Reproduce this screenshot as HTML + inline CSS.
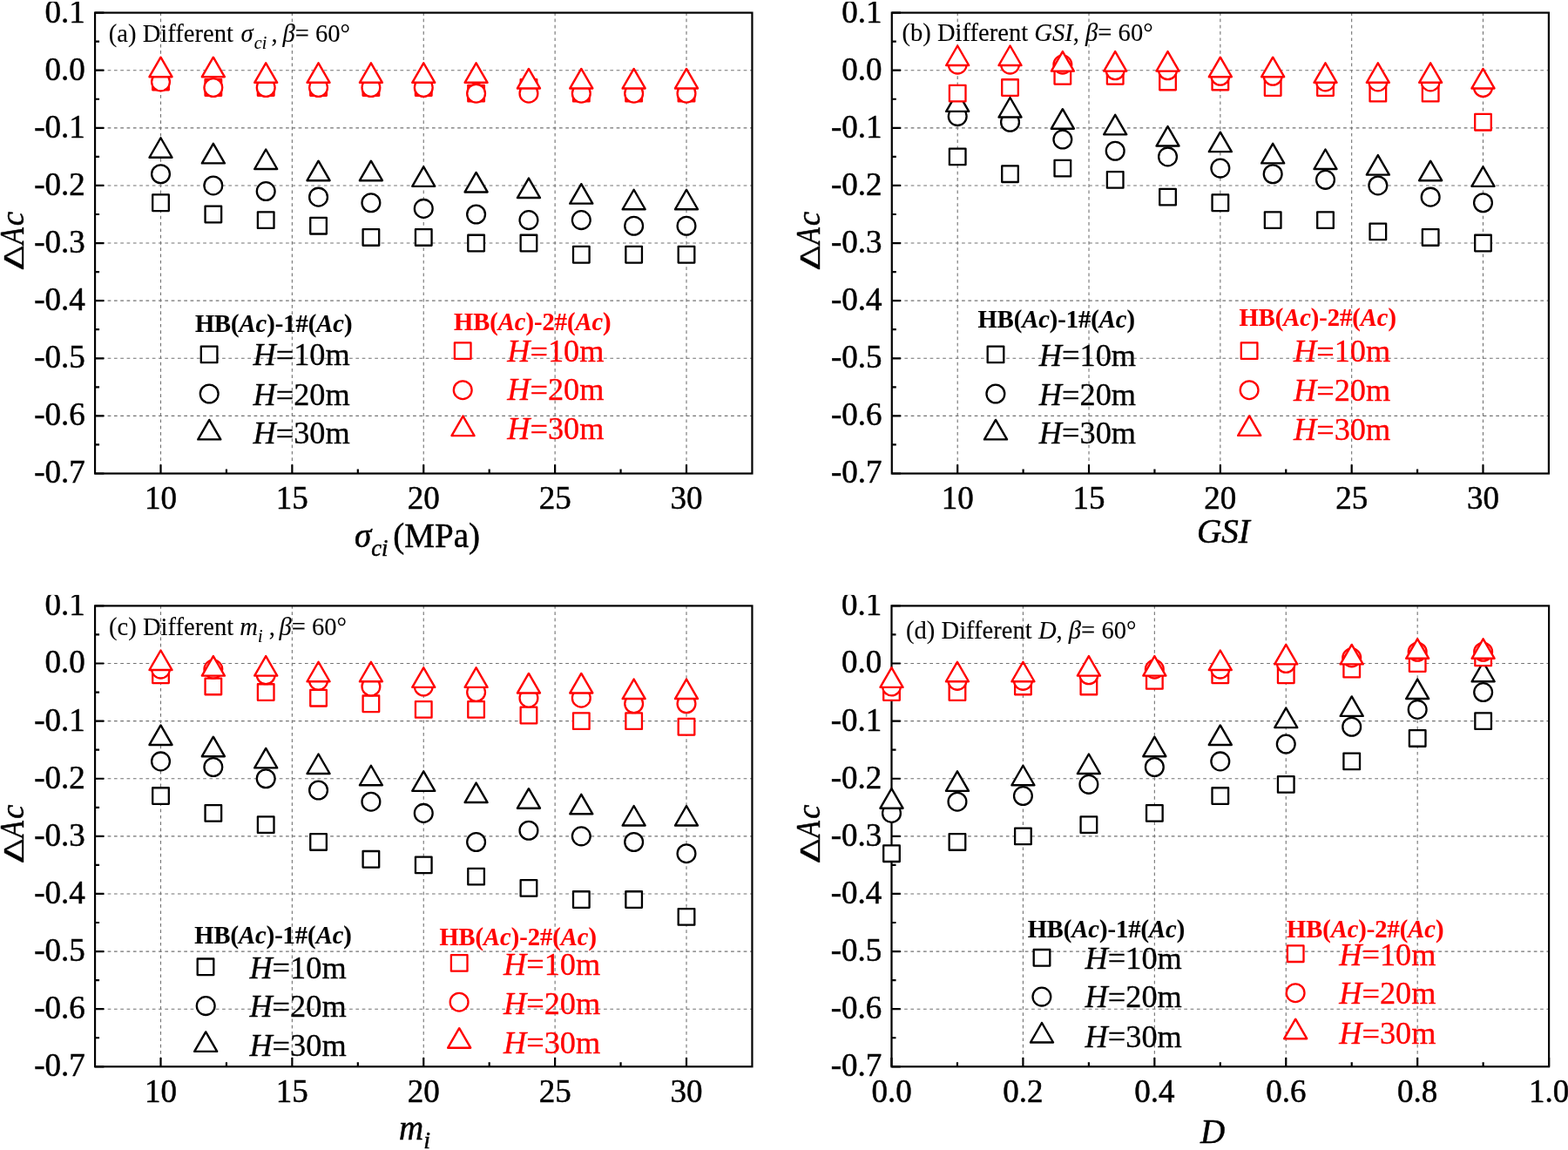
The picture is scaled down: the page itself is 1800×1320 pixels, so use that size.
<!DOCTYPE html>
<html><head><meta charset="utf-8"><title>Figure</title>
<style>html,body{margin:0;padding:0;background:#fff;}svg{display:block;}text{font-family:"Liberation Serif", serif;stroke:#000;stroke-width:0.5px;}text.r{fill:#f00;stroke:#f00;}text.lg{stroke-width:0.3px;}text.hd{stroke-width:0.15px;}text.pt{stroke-width:0.1px;}</style></head><body>
<svg width="1800" height="1320" viewBox="0 0 1800 1320">
<rect width="1800" height="1320" fill="#fff"/>
<g stroke="#727272" stroke-width="1.1" stroke-dasharray="3.7 3.6" fill="none"><line x1="109.06" y1="80.71" x2="863.44" y2="80.71"/><line x1="109.06" y1="146.83" x2="863.44" y2="146.83"/><line x1="109.06" y1="212.94" x2="863.44" y2="212.94"/><line x1="109.06" y1="279.05" x2="863.44" y2="279.05"/><line x1="109.06" y1="345.16" x2="863.44" y2="345.16"/><line x1="109.06" y1="411.28" x2="863.44" y2="411.28"/><line x1="109.06" y1="477.39" x2="863.44" y2="477.39"/><line x1="184.5" y1="543.5" x2="184.5" y2="14.6"/><line x1="335.37" y1="543.5" x2="335.37" y2="14.6"/><line x1="486.25" y1="543.5" x2="486.25" y2="14.6"/><line x1="637.13" y1="543.5" x2="637.13" y2="14.6"/><line x1="788" y1="543.5" x2="788" y2="14.6"/></g>
<rect x="109.06" y="14.6" width="754.38" height="528.9" fill="none" stroke="#000" stroke-width="2.2"/>
<path d="M109.06 14.6H119.36M109.06 80.71H119.36M109.06 146.83H119.36M109.06 212.94H119.36M109.06 279.05H119.36M109.06 345.16H119.36M109.06 411.28H119.36M109.06 477.39H119.36M109.06 543.5H119.36M109.06 47.66H114.06M109.06 113.77H114.06M109.06 179.88H114.06M109.06 245.99H114.06M109.06 312.11H114.06M109.06 378.22H114.06M109.06 444.33H114.06M109.06 510.44H114.06M184.5 543.5V533.2M335.37 543.5V533.2M486.25 543.5V533.2M637.13 543.5V533.2M788 543.5V533.2M259.94 543.5V538.5M410.81 543.5V538.5M561.69 543.5V538.5M712.56 543.5V538.5" stroke="#000" stroke-width="2.2" fill="none"/>
<g font-size="37.0" text-anchor="end"><text x="97.86" y="25.5">0.1</text><text x="97.86" y="91.61">0.0</text><text x="97.86" y="157.73">-0.1</text><text x="97.86" y="223.84">-0.2</text><text x="97.86" y="289.95">-0.3</text><text x="97.86" y="356.06">-0.4</text><text x="97.86" y="422.18">-0.5</text><text x="97.86" y="488.29">-0.6</text><text x="97.86" y="554.4">-0.7</text></g>
<g font-size="37.0" text-anchor="middle"><text x="184.5" y="584.1">10</text><text x="335.37" y="584.1">15</text><text x="486.25" y="584.1">20</text><text x="637.13" y="584.1">25</text><text x="788" y="584.1">30</text></g>
<rect x="175.2" y="223.47" width="18.6" height="18.6" fill="#fff" stroke="#000" stroke-width="2.3" stroke-linejoin="round"/><rect x="235.55" y="236.69" width="18.6" height="18.6" fill="#fff" stroke="#000" stroke-width="2.3" stroke-linejoin="round"/><rect x="295.9" y="243.31" width="18.6" height="18.6" fill="#fff" stroke="#000" stroke-width="2.3" stroke-linejoin="round"/><rect x="356.25" y="249.92" width="18.6" height="18.6" fill="#fff" stroke="#000" stroke-width="2.3" stroke-linejoin="round"/><rect x="416.6" y="263.14" width="18.6" height="18.6" fill="#fff" stroke="#000" stroke-width="2.3" stroke-linejoin="round"/><rect x="476.95" y="263.14" width="18.6" height="18.6" fill="#fff" stroke="#000" stroke-width="2.3" stroke-linejoin="round"/><rect x="537.3" y="269.75" width="18.6" height="18.6" fill="#fff" stroke="#000" stroke-width="2.3" stroke-linejoin="round"/><rect x="597.65" y="269.75" width="18.6" height="18.6" fill="#fff" stroke="#000" stroke-width="2.3" stroke-linejoin="round"/><rect x="658" y="282.97" width="18.6" height="18.6" fill="#fff" stroke="#000" stroke-width="2.3" stroke-linejoin="round"/><rect x="718.35" y="282.97" width="18.6" height="18.6" fill="#fff" stroke="#000" stroke-width="2.3" stroke-linejoin="round"/><rect x="778.7" y="282.97" width="18.6" height="18.6" fill="#fff" stroke="#000" stroke-width="2.3" stroke-linejoin="round"/>
<circle cx="184.5" cy="199.71" r="10.4" fill="#fff" stroke="#000" stroke-width="2.3" stroke-linejoin="round"/><circle cx="244.85" cy="212.94" r="10.4" fill="#fff" stroke="#000" stroke-width="2.3" stroke-linejoin="round"/><circle cx="305.2" cy="219.55" r="10.4" fill="#fff" stroke="#000" stroke-width="2.3" stroke-linejoin="round"/><circle cx="365.55" cy="226.16" r="10.4" fill="#fff" stroke="#000" stroke-width="2.3" stroke-linejoin="round"/><circle cx="425.9" cy="232.77" r="10.4" fill="#fff" stroke="#000" stroke-width="2.3" stroke-linejoin="round"/><circle cx="486.25" cy="239.38" r="10.4" fill="#fff" stroke="#000" stroke-width="2.3" stroke-linejoin="round"/><circle cx="546.6" cy="245.99" r="10.4" fill="#fff" stroke="#000" stroke-width="2.3" stroke-linejoin="round"/><circle cx="606.95" cy="252.61" r="10.4" fill="#fff" stroke="#000" stroke-width="2.3" stroke-linejoin="round"/><circle cx="667.3" cy="252.61" r="10.4" fill="#fff" stroke="#000" stroke-width="2.3" stroke-linejoin="round"/><circle cx="727.65" cy="259.22" r="10.4" fill="#fff" stroke="#000" stroke-width="2.3" stroke-linejoin="round"/><circle cx="788" cy="259.22" r="10.4" fill="#fff" stroke="#000" stroke-width="2.3" stroke-linejoin="round"/>
<path d="M184.5 158.27L197.5 180.77L171.5 180.77Z" fill="#fff" stroke="#000" stroke-width="2.4" stroke-linejoin="round"/><path d="M244.85 164.88L257.85 187.38L231.85 187.38Z" fill="#fff" stroke="#000" stroke-width="2.4" stroke-linejoin="round"/><path d="M305.2 171.49L318.2 193.99L292.2 193.99Z" fill="#fff" stroke="#000" stroke-width="2.4" stroke-linejoin="round"/><path d="M365.55 184.71L378.55 207.21L352.55 207.21Z" fill="#fff" stroke="#000" stroke-width="2.4" stroke-linejoin="round"/><path d="M425.9 184.71L438.9 207.21L412.9 207.21Z" fill="#fff" stroke="#000" stroke-width="2.4" stroke-linejoin="round"/><path d="M486.25 191.33L499.25 213.83L473.25 213.83Z" fill="#fff" stroke="#000" stroke-width="2.4" stroke-linejoin="round"/><path d="M546.6 197.94L559.6 220.44L533.6 220.44Z" fill="#fff" stroke="#000" stroke-width="2.4" stroke-linejoin="round"/><path d="M606.95 204.55L619.95 227.05L593.95 227.05Z" fill="#fff" stroke="#000" stroke-width="2.4" stroke-linejoin="round"/><path d="M667.3 211.16L680.3 233.66L654.3 233.66Z" fill="#fff" stroke="#000" stroke-width="2.4" stroke-linejoin="round"/><path d="M727.65 217.77L740.65 240.27L714.65 240.27Z" fill="#fff" stroke="#000" stroke-width="2.4" stroke-linejoin="round"/><path d="M788 217.77L801 240.27L775 240.27Z" fill="#fff" stroke="#000" stroke-width="2.4" stroke-linejoin="round"/>
<rect x="175.2" y="84.64" width="18.6" height="18.6" fill="#fff" stroke="#ff0000" stroke-width="2.3" stroke-linejoin="round"/><rect x="235.55" y="91.25" width="18.6" height="18.6" fill="#fff" stroke="#ff0000" stroke-width="2.3" stroke-linejoin="round"/><rect x="295.9" y="91.25" width="18.6" height="18.6" fill="#fff" stroke="#ff0000" stroke-width="2.3" stroke-linejoin="round"/><rect x="356.25" y="91.25" width="18.6" height="18.6" fill="#fff" stroke="#ff0000" stroke-width="2.3" stroke-linejoin="round"/><rect x="416.6" y="91.25" width="18.6" height="18.6" fill="#fff" stroke="#ff0000" stroke-width="2.3" stroke-linejoin="round"/><rect x="476.95" y="91.25" width="18.6" height="18.6" fill="#fff" stroke="#ff0000" stroke-width="2.3" stroke-linejoin="round"/><rect x="537.3" y="97.86" width="18.6" height="18.6" fill="#fff" stroke="#ff0000" stroke-width="2.3" stroke-linejoin="round"/><rect x="597.65" y="91.25" width="18.6" height="18.6" fill="#fff" stroke="#ff0000" stroke-width="2.3" stroke-linejoin="round"/><rect x="658" y="97.86" width="18.6" height="18.6" fill="#fff" stroke="#ff0000" stroke-width="2.3" stroke-linejoin="round"/><rect x="718.35" y="97.86" width="18.6" height="18.6" fill="#fff" stroke="#ff0000" stroke-width="2.3" stroke-linejoin="round"/><rect x="778.7" y="97.86" width="18.6" height="18.6" fill="#fff" stroke="#ff0000" stroke-width="2.3" stroke-linejoin="round"/>
<circle cx="184.5" cy="93.94" r="10.4" fill="#fff" stroke="#ff0000" stroke-width="2.3" stroke-linejoin="round"/><circle cx="244.85" cy="100.55" r="10.4" fill="#fff" stroke="#ff0000" stroke-width="2.3" stroke-linejoin="round"/><circle cx="305.2" cy="100.55" r="10.4" fill="#fff" stroke="#ff0000" stroke-width="2.3" stroke-linejoin="round"/><circle cx="365.55" cy="100.55" r="10.4" fill="#fff" stroke="#ff0000" stroke-width="2.3" stroke-linejoin="round"/><circle cx="425.9" cy="100.55" r="10.4" fill="#fff" stroke="#ff0000" stroke-width="2.3" stroke-linejoin="round"/><circle cx="486.25" cy="100.55" r="10.4" fill="#fff" stroke="#ff0000" stroke-width="2.3" stroke-linejoin="round"/><circle cx="546.6" cy="107.16" r="10.4" fill="#fff" stroke="#ff0000" stroke-width="2.3" stroke-linejoin="round"/><circle cx="606.95" cy="107.16" r="10.4" fill="#fff" stroke="#ff0000" stroke-width="2.3" stroke-linejoin="round"/><circle cx="667.3" cy="107.16" r="10.4" fill="#fff" stroke="#ff0000" stroke-width="2.3" stroke-linejoin="round"/><circle cx="727.65" cy="107.16" r="10.4" fill="#fff" stroke="#ff0000" stroke-width="2.3" stroke-linejoin="round"/><circle cx="788" cy="107.16" r="10.4" fill="#fff" stroke="#ff0000" stroke-width="2.3" stroke-linejoin="round"/>
<path d="M184.5 65.71L197.5 88.21L171.5 88.21Z" fill="#fff" stroke="#ff0000" stroke-width="2.4" stroke-linejoin="round"/><path d="M244.85 65.71L257.85 88.21L231.85 88.21Z" fill="#fff" stroke="#ff0000" stroke-width="2.4" stroke-linejoin="round"/><path d="M305.2 72.32L318.2 94.82L292.2 94.82Z" fill="#fff" stroke="#ff0000" stroke-width="2.4" stroke-linejoin="round"/><path d="M365.55 72.32L378.55 94.82L352.55 94.82Z" fill="#fff" stroke="#ff0000" stroke-width="2.4" stroke-linejoin="round"/><path d="M425.9 72.32L438.9 94.82L412.9 94.82Z" fill="#fff" stroke="#ff0000" stroke-width="2.4" stroke-linejoin="round"/><path d="M486.25 72.32L499.25 94.82L473.25 94.82Z" fill="#fff" stroke="#ff0000" stroke-width="2.4" stroke-linejoin="round"/><path d="M546.6 72.32L559.6 94.82L533.6 94.82Z" fill="#fff" stroke="#ff0000" stroke-width="2.4" stroke-linejoin="round"/><path d="M606.95 78.94L619.95 101.44L593.95 101.44Z" fill="#fff" stroke="#ff0000" stroke-width="2.4" stroke-linejoin="round"/><path d="M667.3 78.94L680.3 101.44L654.3 101.44Z" fill="#fff" stroke="#ff0000" stroke-width="2.4" stroke-linejoin="round"/><path d="M727.65 78.94L740.65 101.44L714.65 101.44Z" fill="#fff" stroke="#ff0000" stroke-width="2.4" stroke-linejoin="round"/><path d="M788 78.94L801 101.44L775 101.44Z" fill="#fff" stroke="#ff0000" stroke-width="2.4" stroke-linejoin="round"/>
<text x="223.9" y="380.5" font-size="28.5" font-weight="bold" class="hd">HB(<tspan font-style="italic">Ac</tspan>)-1#(<tspan font-style="italic">Ac</tspan>)</text>
<text x="521.1" y="379.2" font-size="28.5" font-weight="bold" class="r hd">HB(<tspan font-style="italic">Ac</tspan>)-2#(<tspan font-style="italic">Ac</tspan>)</text>
<rect x="230.8" y="397.6" width="18.6" height="18.6" fill="#fff" stroke="#000" stroke-width="2.3" stroke-linejoin="round"/>
<circle cx="240.2" cy="452" r="10.4" fill="#fff" stroke="#000" stroke-width="2.3" stroke-linejoin="round"/>
<path d="M240.3 481.9L253.3 504.4L227.3 504.4Z" fill="#fff" stroke="#000" stroke-width="2.4" stroke-linejoin="round"/>
<rect x="521.9" y="393.3" width="18.6" height="18.6" fill="#fff" stroke="#ff0000" stroke-width="2.3" stroke-linejoin="round"/>
<circle cx="531.2" cy="447.7" r="10.4" fill="#fff" stroke="#ff0000" stroke-width="2.3" stroke-linejoin="round"/>
<path d="M531.5 477.6L544.5 500.1L518.5 500.1Z" fill="#fff" stroke="#ff0000" stroke-width="2.4" stroke-linejoin="round"/>
<text x="290.5" y="419" font-size="36.3" class="lg"><tspan font-style="italic">H</tspan><tspan dy="0.6">=</tspan><tspan dy="-0.6">10m</tspan></text>
<text x="290.5" y="464.9" font-size="36.3" class="lg"><tspan font-style="italic">H</tspan><tspan dy="0.6">=</tspan><tspan dy="-0.6">20m</tspan></text>
<text x="290.5" y="509.3" font-size="36.3" class="lg"><tspan font-style="italic">H</tspan><tspan dy="0.6">=</tspan><tspan dy="-0.6">30m</tspan></text>
<text x="582.2" y="414.9" font-size="36.3" class="r lg"><tspan font-style="italic">H</tspan><tspan dy="0.6">=</tspan><tspan dy="-0.6">10m</tspan></text>
<text x="582.2" y="459.3" font-size="36.3" class="r lg"><tspan font-style="italic">H</tspan><tspan dy="0.6">=</tspan><tspan dy="-0.6">20m</tspan></text>
<text x="582.2" y="504.3" font-size="36.3" class="r lg"><tspan font-style="italic">H</tspan><tspan dy="0.6">=</tspan><tspan dy="-0.6">30m</tspan></text>
<g stroke="#727272" stroke-width="1.1" stroke-dasharray="3.7 3.6" fill="none"><line x1="1023.79" y1="80.71" x2="1777.9" y2="80.71"/><line x1="1023.79" y1="146.83" x2="1777.9" y2="146.83"/><line x1="1023.79" y1="212.94" x2="1777.9" y2="212.94"/><line x1="1023.79" y1="279.05" x2="1777.9" y2="279.05"/><line x1="1023.79" y1="345.16" x2="1777.9" y2="345.16"/><line x1="1023.79" y1="411.28" x2="1777.9" y2="411.28"/><line x1="1023.79" y1="477.39" x2="1777.9" y2="477.39"/><line x1="1099.2" y1="543.5" x2="1099.2" y2="14.6"/><line x1="1250.02" y1="543.5" x2="1250.02" y2="14.6"/><line x1="1400.85" y1="543.5" x2="1400.85" y2="14.6"/><line x1="1551.67" y1="543.5" x2="1551.67" y2="14.6"/><line x1="1702.49" y1="543.5" x2="1702.49" y2="14.6"/></g>
<rect x="1023.79" y="14.6" width="754.11" height="528.9" fill="none" stroke="#000" stroke-width="2.2"/>
<path d="M1023.79 14.6H1034.09M1023.79 80.71H1034.09M1023.79 146.83H1034.09M1023.79 212.94H1034.09M1023.79 279.05H1034.09M1023.79 345.16H1034.09M1023.79 411.28H1034.09M1023.79 477.39H1034.09M1023.79 543.5H1034.09M1023.79 47.66H1028.79M1023.79 113.77H1028.79M1023.79 179.88H1028.79M1023.79 245.99H1028.79M1023.79 312.11H1028.79M1023.79 378.22H1028.79M1023.79 444.33H1028.79M1023.79 510.44H1028.79M1099.2 543.5V533.2M1250.02 543.5V533.2M1400.85 543.5V533.2M1551.67 543.5V533.2M1702.49 543.5V533.2M1174.61 543.5V538.5M1325.43 543.5V538.5M1476.26 543.5V538.5M1627.08 543.5V538.5" stroke="#000" stroke-width="2.2" fill="none"/>
<g font-size="37.0" text-anchor="end"><text x="1012.59" y="25.5">0.1</text><text x="1012.59" y="91.61">0.0</text><text x="1012.59" y="157.73">-0.1</text><text x="1012.59" y="223.84">-0.2</text><text x="1012.59" y="289.95">-0.3</text><text x="1012.59" y="356.06">-0.4</text><text x="1012.59" y="422.18">-0.5</text><text x="1012.59" y="488.29">-0.6</text><text x="1012.59" y="554.4">-0.7</text></g>
<g font-size="37.0" text-anchor="middle"><text x="1099.2" y="584.1">10</text><text x="1250.02" y="584.1">15</text><text x="1400.85" y="584.1">20</text><text x="1551.67" y="584.1">25</text><text x="1702.49" y="584.1">30</text></g>
<rect x="1089.9" y="170.58" width="18.6" height="18.6" fill="#fff" stroke="#000" stroke-width="2.3" stroke-linejoin="round"/><rect x="1150.23" y="190.41" width="18.6" height="18.6" fill="#fff" stroke="#000" stroke-width="2.3" stroke-linejoin="round"/><rect x="1210.56" y="183.8" width="18.6" height="18.6" fill="#fff" stroke="#000" stroke-width="2.3" stroke-linejoin="round"/><rect x="1270.89" y="197.03" width="18.6" height="18.6" fill="#fff" stroke="#000" stroke-width="2.3" stroke-linejoin="round"/><rect x="1331.22" y="216.86" width="18.6" height="18.6" fill="#fff" stroke="#000" stroke-width="2.3" stroke-linejoin="round"/><rect x="1391.55" y="223.47" width="18.6" height="18.6" fill="#fff" stroke="#000" stroke-width="2.3" stroke-linejoin="round"/><rect x="1451.87" y="243.31" width="18.6" height="18.6" fill="#fff" stroke="#000" stroke-width="2.3" stroke-linejoin="round"/><rect x="1512.2" y="243.31" width="18.6" height="18.6" fill="#fff" stroke="#000" stroke-width="2.3" stroke-linejoin="round"/><rect x="1572.53" y="256.53" width="18.6" height="18.6" fill="#fff" stroke="#000" stroke-width="2.3" stroke-linejoin="round"/><rect x="1632.86" y="263.14" width="18.6" height="18.6" fill="#fff" stroke="#000" stroke-width="2.3" stroke-linejoin="round"/><rect x="1693.19" y="269.75" width="18.6" height="18.6" fill="#fff" stroke="#000" stroke-width="2.3" stroke-linejoin="round"/>
<circle cx="1099.2" cy="133.6" r="10.4" fill="#fff" stroke="#000" stroke-width="2.3" stroke-linejoin="round"/><circle cx="1159.53" cy="140.21" r="10.4" fill="#fff" stroke="#000" stroke-width="2.3" stroke-linejoin="round"/><circle cx="1219.86" cy="160.05" r="10.4" fill="#fff" stroke="#000" stroke-width="2.3" stroke-linejoin="round"/><circle cx="1280.19" cy="173.27" r="10.4" fill="#fff" stroke="#000" stroke-width="2.3" stroke-linejoin="round"/><circle cx="1340.52" cy="179.88" r="10.4" fill="#fff" stroke="#000" stroke-width="2.3" stroke-linejoin="round"/><circle cx="1400.85" cy="193.1" r="10.4" fill="#fff" stroke="#000" stroke-width="2.3" stroke-linejoin="round"/><circle cx="1461.17" cy="199.71" r="10.4" fill="#fff" stroke="#000" stroke-width="2.3" stroke-linejoin="round"/><circle cx="1521.5" cy="206.33" r="10.4" fill="#fff" stroke="#000" stroke-width="2.3" stroke-linejoin="round"/><circle cx="1581.83" cy="212.94" r="10.4" fill="#fff" stroke="#000" stroke-width="2.3" stroke-linejoin="round"/><circle cx="1642.16" cy="226.16" r="10.4" fill="#fff" stroke="#000" stroke-width="2.3" stroke-linejoin="round"/><circle cx="1702.49" cy="232.77" r="10.4" fill="#fff" stroke="#000" stroke-width="2.3" stroke-linejoin="round"/>
<path d="M1099.2 105.38L1112.2 127.88L1086.2 127.88Z" fill="#fff" stroke="#000" stroke-width="2.4" stroke-linejoin="round"/><path d="M1159.53 111.99L1172.53 134.49L1146.53 134.49Z" fill="#fff" stroke="#000" stroke-width="2.4" stroke-linejoin="round"/><path d="M1219.86 125.21L1232.86 147.71L1206.86 147.71Z" fill="#fff" stroke="#000" stroke-width="2.4" stroke-linejoin="round"/><path d="M1280.19 131.83L1293.19 154.33L1267.19 154.33Z" fill="#fff" stroke="#000" stroke-width="2.4" stroke-linejoin="round"/><path d="M1340.52 145.05L1353.52 167.55L1327.52 167.55Z" fill="#fff" stroke="#000" stroke-width="2.4" stroke-linejoin="round"/><path d="M1400.85 151.66L1413.85 174.16L1387.85 174.16Z" fill="#fff" stroke="#000" stroke-width="2.4" stroke-linejoin="round"/><path d="M1461.17 164.88L1474.17 187.38L1448.17 187.38Z" fill="#fff" stroke="#000" stroke-width="2.4" stroke-linejoin="round"/><path d="M1521.5 171.49L1534.5 193.99L1508.5 193.99Z" fill="#fff" stroke="#000" stroke-width="2.4" stroke-linejoin="round"/><path d="M1581.83 178.1L1594.83 200.6L1568.83 200.6Z" fill="#fff" stroke="#000" stroke-width="2.4" stroke-linejoin="round"/><path d="M1642.16 184.71L1655.16 207.21L1629.16 207.21Z" fill="#fff" stroke="#000" stroke-width="2.4" stroke-linejoin="round"/><path d="M1702.49 191.33L1715.49 213.83L1689.49 213.83Z" fill="#fff" stroke="#000" stroke-width="2.4" stroke-linejoin="round"/>
<rect x="1089.9" y="97.86" width="18.6" height="18.6" fill="#fff" stroke="#ff0000" stroke-width="2.3" stroke-linejoin="round"/><rect x="1150.23" y="91.25" width="18.6" height="18.6" fill="#fff" stroke="#ff0000" stroke-width="2.3" stroke-linejoin="round"/><rect x="1210.56" y="78.02" width="18.6" height="18.6" fill="#fff" stroke="#ff0000" stroke-width="2.3" stroke-linejoin="round"/><rect x="1270.89" y="78.02" width="18.6" height="18.6" fill="#fff" stroke="#ff0000" stroke-width="2.3" stroke-linejoin="round"/><rect x="1331.22" y="84.64" width="18.6" height="18.6" fill="#fff" stroke="#ff0000" stroke-width="2.3" stroke-linejoin="round"/><rect x="1391.55" y="84.64" width="18.6" height="18.6" fill="#fff" stroke="#ff0000" stroke-width="2.3" stroke-linejoin="round"/><rect x="1451.87" y="91.25" width="18.6" height="18.6" fill="#fff" stroke="#ff0000" stroke-width="2.3" stroke-linejoin="round"/><rect x="1512.2" y="91.25" width="18.6" height="18.6" fill="#fff" stroke="#ff0000" stroke-width="2.3" stroke-linejoin="round"/><rect x="1572.53" y="97.86" width="18.6" height="18.6" fill="#fff" stroke="#ff0000" stroke-width="2.3" stroke-linejoin="round"/><rect x="1632.86" y="97.86" width="18.6" height="18.6" fill="#fff" stroke="#ff0000" stroke-width="2.3" stroke-linejoin="round"/><rect x="1693.19" y="130.91" width="18.6" height="18.6" fill="#fff" stroke="#ff0000" stroke-width="2.3" stroke-linejoin="round"/>
<circle cx="1099.2" cy="74.1" r="10.4" fill="#fff" stroke="#ff0000" stroke-width="2.3" stroke-linejoin="round"/><circle cx="1159.53" cy="74.1" r="10.4" fill="#fff" stroke="#ff0000" stroke-width="2.3" stroke-linejoin="round"/><circle cx="1219.86" cy="74.1" r="10.4" fill="#fff" stroke="#ff0000" stroke-width="2.3" stroke-linejoin="round"/><circle cx="1280.19" cy="80.71" r="10.4" fill="#fff" stroke="#ff0000" stroke-width="2.3" stroke-linejoin="round"/><circle cx="1340.52" cy="80.71" r="10.4" fill="#fff" stroke="#ff0000" stroke-width="2.3" stroke-linejoin="round"/><circle cx="1400.85" cy="87.32" r="10.4" fill="#fff" stroke="#ff0000" stroke-width="2.3" stroke-linejoin="round"/><circle cx="1461.17" cy="87.32" r="10.4" fill="#fff" stroke="#ff0000" stroke-width="2.3" stroke-linejoin="round"/><circle cx="1521.5" cy="93.94" r="10.4" fill="#fff" stroke="#ff0000" stroke-width="2.3" stroke-linejoin="round"/><circle cx="1581.83" cy="93.94" r="10.4" fill="#fff" stroke="#ff0000" stroke-width="2.3" stroke-linejoin="round"/><circle cx="1642.16" cy="93.94" r="10.4" fill="#fff" stroke="#ff0000" stroke-width="2.3" stroke-linejoin="round"/><circle cx="1702.49" cy="100.55" r="10.4" fill="#fff" stroke="#ff0000" stroke-width="2.3" stroke-linejoin="round"/>
<path d="M1099.2 52.49L1112.2 74.99L1086.2 74.99Z" fill="#fff" stroke="#ff0000" stroke-width="2.4" stroke-linejoin="round"/><path d="M1159.53 52.49L1172.53 74.99L1146.53 74.99Z" fill="#fff" stroke="#ff0000" stroke-width="2.4" stroke-linejoin="round"/><path d="M1219.86 59.1L1232.86 81.6L1206.86 81.6Z" fill="#fff" stroke="#ff0000" stroke-width="2.4" stroke-linejoin="round"/><path d="M1280.19 59.1L1293.19 81.6L1267.19 81.6Z" fill="#fff" stroke="#ff0000" stroke-width="2.4" stroke-linejoin="round"/><path d="M1340.52 59.1L1353.52 81.6L1327.52 81.6Z" fill="#fff" stroke="#ff0000" stroke-width="2.4" stroke-linejoin="round"/><path d="M1400.85 65.71L1413.85 88.21L1387.85 88.21Z" fill="#fff" stroke="#ff0000" stroke-width="2.4" stroke-linejoin="round"/><path d="M1461.17 65.71L1474.17 88.21L1448.17 88.21Z" fill="#fff" stroke="#ff0000" stroke-width="2.4" stroke-linejoin="round"/><path d="M1521.5 72.32L1534.5 94.82L1508.5 94.82Z" fill="#fff" stroke="#ff0000" stroke-width="2.4" stroke-linejoin="round"/><path d="M1581.83 72.32L1594.83 94.82L1568.83 94.82Z" fill="#fff" stroke="#ff0000" stroke-width="2.4" stroke-linejoin="round"/><path d="M1642.16 72.32L1655.16 94.82L1629.16 94.82Z" fill="#fff" stroke="#ff0000" stroke-width="2.4" stroke-linejoin="round"/><path d="M1702.49 78.94L1715.49 101.44L1689.49 101.44Z" fill="#fff" stroke="#ff0000" stroke-width="2.4" stroke-linejoin="round"/>
<text x="1122.5" y="376.1" font-size="28.5" font-weight="bold" class="hd">HB(<tspan font-style="italic">Ac</tspan>)-1#(<tspan font-style="italic">Ac</tspan>)</text>
<text x="1422.5" y="374.2" font-size="28.5" font-weight="bold" class="r hd">HB(<tspan font-style="italic">Ac</tspan>)-2#(<tspan font-style="italic">Ac</tspan>)</text>
<rect x="1133.7" y="397.6" width="18.6" height="18.6" fill="#fff" stroke="#000" stroke-width="2.3" stroke-linejoin="round"/>
<circle cx="1142.9" cy="452" r="10.4" fill="#fff" stroke="#000" stroke-width="2.3" stroke-linejoin="round"/>
<path d="M1143 481.9L1156 504.4L1130 504.4Z" fill="#fff" stroke="#000" stroke-width="2.4" stroke-linejoin="round"/>
<rect x="1424.8" y="393.3" width="18.6" height="18.6" fill="#fff" stroke="#ff0000" stroke-width="2.3" stroke-linejoin="round"/>
<circle cx="1434.1" cy="447.7" r="10.4" fill="#fff" stroke="#ff0000" stroke-width="2.3" stroke-linejoin="round"/>
<path d="M1434.2 477.4L1447.2 499.9L1421.2 499.9Z" fill="#fff" stroke="#ff0000" stroke-width="2.4" stroke-linejoin="round"/>
<text x="1192.8" y="419.6" font-size="36.3" class="lg"><tspan font-style="italic">H</tspan><tspan dy="0.6">=</tspan><tspan dy="-0.6">10m</tspan></text>
<text x="1192.8" y="465.4" font-size="36.3" class="lg"><tspan font-style="italic">H</tspan><tspan dy="0.6">=</tspan><tspan dy="-0.6">20m</tspan></text>
<text x="1192.8" y="508.5" font-size="36.3" class="lg"><tspan font-style="italic">H</tspan><tspan dy="0.6">=</tspan><tspan dy="-0.6">30m</tspan></text>
<text x="1485" y="414.9" font-size="36.3" class="r lg"><tspan font-style="italic">H</tspan><tspan dy="0.6">=</tspan><tspan dy="-0.6">10m</tspan></text>
<text x="1485" y="459.9" font-size="36.3" class="r lg"><tspan font-style="italic">H</tspan><tspan dy="0.6">=</tspan><tspan dy="-0.6">20m</tspan></text>
<text x="1485" y="504.9" font-size="36.3" class="r lg"><tspan font-style="italic">H</tspan><tspan dy="0.6">=</tspan><tspan dy="-0.6">30m</tspan></text>
<g stroke="#727272" stroke-width="1.1" stroke-dasharray="3.7 3.6" fill="none"><line x1="109.06" y1="761.51" x2="863.44" y2="761.51"/><line x1="109.06" y1="827.62" x2="863.44" y2="827.62"/><line x1="109.06" y1="893.74" x2="863.44" y2="893.74"/><line x1="109.06" y1="959.85" x2="863.44" y2="959.85"/><line x1="109.06" y1="1025.96" x2="863.44" y2="1025.96"/><line x1="109.06" y1="1092.08" x2="863.44" y2="1092.08"/><line x1="109.06" y1="1158.19" x2="863.44" y2="1158.19"/><line x1="184.5" y1="1224.3" x2="184.5" y2="695.4"/><line x1="335.37" y1="1224.3" x2="335.37" y2="695.4"/><line x1="486.25" y1="1224.3" x2="486.25" y2="695.4"/><line x1="637.13" y1="1224.3" x2="637.13" y2="695.4"/><line x1="788" y1="1224.3" x2="788" y2="695.4"/></g>
<rect x="109.06" y="695.4" width="754.38" height="528.9" fill="none" stroke="#000" stroke-width="2.2"/>
<path d="M109.06 695.4H119.36M109.06 761.51H119.36M109.06 827.62H119.36M109.06 893.74H119.36M109.06 959.85H119.36M109.06 1025.96H119.36M109.06 1092.08H119.36M109.06 1158.19H119.36M109.06 1224.3H119.36M109.06 728.46H114.06M109.06 794.57H114.06M109.06 860.68H114.06M109.06 926.79H114.06M109.06 992.91H114.06M109.06 1059.02H114.06M109.06 1125.13H114.06M109.06 1191.24H114.06M184.5 1224.3V1214M335.37 1224.3V1214M486.25 1224.3V1214M637.13 1224.3V1214M788 1224.3V1214M259.94 1224.3V1219.3M410.81 1224.3V1219.3M561.69 1224.3V1219.3M712.56 1224.3V1219.3" stroke="#000" stroke-width="2.2" fill="none"/>
<g font-size="37.0" text-anchor="end"><text x="97.86" y="706.3">0.1</text><text x="97.86" y="772.41">0.0</text><text x="97.86" y="838.52">-0.1</text><text x="97.86" y="904.64">-0.2</text><text x="97.86" y="970.75">-0.3</text><text x="97.86" y="1036.86">-0.4</text><text x="97.86" y="1102.98">-0.5</text><text x="97.86" y="1169.09">-0.6</text><text x="97.86" y="1235.2">-0.7</text></g>
<g font-size="37.0" text-anchor="middle"><text x="184.5" y="1264.9">10</text><text x="335.37" y="1264.9">15</text><text x="486.25" y="1264.9">20</text><text x="637.13" y="1264.9">25</text><text x="788" y="1264.9">30</text></g>
<rect x="175.2" y="904.27" width="18.6" height="18.6" fill="#fff" stroke="#000" stroke-width="2.3" stroke-linejoin="round"/><rect x="235.55" y="924.11" width="18.6" height="18.6" fill="#fff" stroke="#000" stroke-width="2.3" stroke-linejoin="round"/><rect x="295.9" y="937.33" width="18.6" height="18.6" fill="#fff" stroke="#000" stroke-width="2.3" stroke-linejoin="round"/><rect x="356.25" y="957.16" width="18.6" height="18.6" fill="#fff" stroke="#000" stroke-width="2.3" stroke-linejoin="round"/><rect x="416.6" y="977" width="18.6" height="18.6" fill="#fff" stroke="#000" stroke-width="2.3" stroke-linejoin="round"/><rect x="476.95" y="983.61" width="18.6" height="18.6" fill="#fff" stroke="#000" stroke-width="2.3" stroke-linejoin="round"/><rect x="537.3" y="996.83" width="18.6" height="18.6" fill="#fff" stroke="#000" stroke-width="2.3" stroke-linejoin="round"/><rect x="597.65" y="1010.05" width="18.6" height="18.6" fill="#fff" stroke="#000" stroke-width="2.3" stroke-linejoin="round"/><rect x="658" y="1023.27" width="18.6" height="18.6" fill="#fff" stroke="#000" stroke-width="2.3" stroke-linejoin="round"/><rect x="718.35" y="1023.27" width="18.6" height="18.6" fill="#fff" stroke="#000" stroke-width="2.3" stroke-linejoin="round"/><rect x="778.7" y="1043.11" width="18.6" height="18.6" fill="#fff" stroke="#000" stroke-width="2.3" stroke-linejoin="round"/>
<circle cx="184.5" cy="873.9" r="10.4" fill="#fff" stroke="#000" stroke-width="2.3" stroke-linejoin="round"/><circle cx="244.85" cy="880.51" r="10.4" fill="#fff" stroke="#000" stroke-width="2.3" stroke-linejoin="round"/><circle cx="305.2" cy="893.74" r="10.4" fill="#fff" stroke="#000" stroke-width="2.3" stroke-linejoin="round"/><circle cx="365.55" cy="906.96" r="10.4" fill="#fff" stroke="#000" stroke-width="2.3" stroke-linejoin="round"/><circle cx="425.9" cy="920.18" r="10.4" fill="#fff" stroke="#000" stroke-width="2.3" stroke-linejoin="round"/><circle cx="486.25" cy="933.4" r="10.4" fill="#fff" stroke="#000" stroke-width="2.3" stroke-linejoin="round"/><circle cx="546.6" cy="966.46" r="10.4" fill="#fff" stroke="#000" stroke-width="2.3" stroke-linejoin="round"/><circle cx="606.95" cy="953.24" r="10.4" fill="#fff" stroke="#000" stroke-width="2.3" stroke-linejoin="round"/><circle cx="667.3" cy="959.85" r="10.4" fill="#fff" stroke="#000" stroke-width="2.3" stroke-linejoin="round"/><circle cx="727.65" cy="966.46" r="10.4" fill="#fff" stroke="#000" stroke-width="2.3" stroke-linejoin="round"/><circle cx="788" cy="979.68" r="10.4" fill="#fff" stroke="#000" stroke-width="2.3" stroke-linejoin="round"/>
<path d="M184.5 832.46L197.5 854.96L171.5 854.96Z" fill="#fff" stroke="#000" stroke-width="2.4" stroke-linejoin="round"/><path d="M244.85 845.68L257.85 868.18L231.85 868.18Z" fill="#fff" stroke="#000" stroke-width="2.4" stroke-linejoin="round"/><path d="M305.2 858.9L318.2 881.4L292.2 881.4Z" fill="#fff" stroke="#000" stroke-width="2.4" stroke-linejoin="round"/><path d="M365.55 865.51L378.55 888.01L352.55 888.01Z" fill="#fff" stroke="#000" stroke-width="2.4" stroke-linejoin="round"/><path d="M425.9 878.74L438.9 901.24L412.9 901.24Z" fill="#fff" stroke="#000" stroke-width="2.4" stroke-linejoin="round"/><path d="M486.25 885.35L499.25 907.85L473.25 907.85Z" fill="#fff" stroke="#000" stroke-width="2.4" stroke-linejoin="round"/><path d="M546.6 898.57L559.6 921.07L533.6 921.07Z" fill="#fff" stroke="#000" stroke-width="2.4" stroke-linejoin="round"/><path d="M606.95 905.18L619.95 927.68L593.95 927.68Z" fill="#fff" stroke="#000" stroke-width="2.4" stroke-linejoin="round"/><path d="M667.3 911.79L680.3 934.29L654.3 934.29Z" fill="#fff" stroke="#000" stroke-width="2.4" stroke-linejoin="round"/><path d="M727.65 925.02L740.65 947.52L714.65 947.52Z" fill="#fff" stroke="#000" stroke-width="2.4" stroke-linejoin="round"/><path d="M788 925.02L801 947.52L775 947.52Z" fill="#fff" stroke="#000" stroke-width="2.4" stroke-linejoin="round"/>
<rect x="175.2" y="765.44" width="18.6" height="18.6" fill="#fff" stroke="#ff0000" stroke-width="2.3" stroke-linejoin="round"/><rect x="235.55" y="778.66" width="18.6" height="18.6" fill="#fff" stroke="#ff0000" stroke-width="2.3" stroke-linejoin="round"/><rect x="295.9" y="785.27" width="18.6" height="18.6" fill="#fff" stroke="#ff0000" stroke-width="2.3" stroke-linejoin="round"/><rect x="356.25" y="791.88" width="18.6" height="18.6" fill="#fff" stroke="#ff0000" stroke-width="2.3" stroke-linejoin="round"/><rect x="416.6" y="798.49" width="18.6" height="18.6" fill="#fff" stroke="#ff0000" stroke-width="2.3" stroke-linejoin="round"/><rect x="476.95" y="805.1" width="18.6" height="18.6" fill="#fff" stroke="#ff0000" stroke-width="2.3" stroke-linejoin="round"/><rect x="537.3" y="805.1" width="18.6" height="18.6" fill="#fff" stroke="#ff0000" stroke-width="2.3" stroke-linejoin="round"/><rect x="597.65" y="811.71" width="18.6" height="18.6" fill="#fff" stroke="#ff0000" stroke-width="2.3" stroke-linejoin="round"/><rect x="658" y="818.33" width="18.6" height="18.6" fill="#fff" stroke="#ff0000" stroke-width="2.3" stroke-linejoin="round"/><rect x="718.35" y="818.33" width="18.6" height="18.6" fill="#fff" stroke="#ff0000" stroke-width="2.3" stroke-linejoin="round"/><rect x="778.7" y="824.94" width="18.6" height="18.6" fill="#fff" stroke="#ff0000" stroke-width="2.3" stroke-linejoin="round"/>
<circle cx="184.5" cy="768.12" r="10.4" fill="#fff" stroke="#ff0000" stroke-width="2.3" stroke-linejoin="round"/><circle cx="244.85" cy="768.12" r="10.4" fill="#fff" stroke="#ff0000" stroke-width="2.3" stroke-linejoin="round"/><circle cx="305.2" cy="774.74" r="10.4" fill="#fff" stroke="#ff0000" stroke-width="2.3" stroke-linejoin="round"/><circle cx="365.55" cy="781.35" r="10.4" fill="#fff" stroke="#ff0000" stroke-width="2.3" stroke-linejoin="round"/><circle cx="425.9" cy="787.96" r="10.4" fill="#fff" stroke="#ff0000" stroke-width="2.3" stroke-linejoin="round"/><circle cx="486.25" cy="787.96" r="10.4" fill="#fff" stroke="#ff0000" stroke-width="2.3" stroke-linejoin="round"/><circle cx="546.6" cy="794.57" r="10.4" fill="#fff" stroke="#ff0000" stroke-width="2.3" stroke-linejoin="round"/><circle cx="606.95" cy="801.18" r="10.4" fill="#fff" stroke="#ff0000" stroke-width="2.3" stroke-linejoin="round"/><circle cx="667.3" cy="801.18" r="10.4" fill="#fff" stroke="#ff0000" stroke-width="2.3" stroke-linejoin="round"/><circle cx="727.65" cy="807.79" r="10.4" fill="#fff" stroke="#ff0000" stroke-width="2.3" stroke-linejoin="round"/><circle cx="788" cy="807.79" r="10.4" fill="#fff" stroke="#ff0000" stroke-width="2.3" stroke-linejoin="round"/>
<path d="M184.5 746.51L197.5 769.01L171.5 769.01Z" fill="#fff" stroke="#ff0000" stroke-width="2.4" stroke-linejoin="round"/><path d="M244.85 753.12L257.85 775.62L231.85 775.62Z" fill="#fff" stroke="#ff0000" stroke-width="2.4" stroke-linejoin="round"/><path d="M305.2 753.12L318.2 775.62L292.2 775.62Z" fill="#fff" stroke="#ff0000" stroke-width="2.4" stroke-linejoin="round"/><path d="M365.55 759.74L378.55 782.24L352.55 782.24Z" fill="#fff" stroke="#ff0000" stroke-width="2.4" stroke-linejoin="round"/><path d="M425.9 759.74L438.9 782.24L412.9 782.24Z" fill="#fff" stroke="#ff0000" stroke-width="2.4" stroke-linejoin="round"/><path d="M486.25 766.35L499.25 788.85L473.25 788.85Z" fill="#fff" stroke="#ff0000" stroke-width="2.4" stroke-linejoin="round"/><path d="M546.6 766.35L559.6 788.85L533.6 788.85Z" fill="#fff" stroke="#ff0000" stroke-width="2.4" stroke-linejoin="round"/><path d="M606.95 772.96L619.95 795.46L593.95 795.46Z" fill="#fff" stroke="#ff0000" stroke-width="2.4" stroke-linejoin="round"/><path d="M667.3 772.96L680.3 795.46L654.3 795.46Z" fill="#fff" stroke="#ff0000" stroke-width="2.4" stroke-linejoin="round"/><path d="M727.65 779.57L740.65 802.07L714.65 802.07Z" fill="#fff" stroke="#ff0000" stroke-width="2.4" stroke-linejoin="round"/><path d="M788 779.57L801 802.07L775 802.07Z" fill="#fff" stroke="#ff0000" stroke-width="2.4" stroke-linejoin="round"/>
<text x="223.3" y="1083.3" font-size="28.5" font-weight="bold" class="hd">HB(<tspan font-style="italic">Ac</tspan>)-1#(<tspan font-style="italic">Ac</tspan>)</text>
<text x="504.4" y="1084.7" font-size="28.5" font-weight="bold" class="r hd">HB(<tspan font-style="italic">Ac</tspan>)-2#(<tspan font-style="italic">Ac</tspan>)</text>
<rect x="226.7" y="1100.5" width="18.6" height="18.6" fill="#fff" stroke="#000" stroke-width="2.3" stroke-linejoin="round"/>
<circle cx="236.2" cy="1154.6" r="10.4" fill="#fff" stroke="#000" stroke-width="2.3" stroke-linejoin="round"/>
<path d="M236.2 1184.4L249.2 1206.9L223.2 1206.9Z" fill="#fff" stroke="#000" stroke-width="2.4" stroke-linejoin="round"/>
<rect x="517.9" y="1096.1" width="18.6" height="18.6" fill="#fff" stroke="#ff0000" stroke-width="2.3" stroke-linejoin="round"/>
<circle cx="527.1" cy="1150.2" r="10.4" fill="#fff" stroke="#ff0000" stroke-width="2.3" stroke-linejoin="round"/>
<path d="M527.2 1180.2L540.2 1202.7L514.2 1202.7Z" fill="#fff" stroke="#ff0000" stroke-width="2.4" stroke-linejoin="round"/>
<text x="286.4" y="1122.7" font-size="36.3" class="lg"><tspan font-style="italic">H</tspan><tspan dy="0.6">=</tspan><tspan dy="-0.6">10m</tspan></text>
<text x="286.4" y="1167.1" font-size="36.3" class="lg"><tspan font-style="italic">H</tspan><tspan dy="0.6">=</tspan><tspan dy="-0.6">20m</tspan></text>
<text x="286.4" y="1212.1" font-size="36.3" class="lg"><tspan font-style="italic">H</tspan><tspan dy="0.6">=</tspan><tspan dy="-0.6">30m</tspan></text>
<text x="578" y="1118.5" font-size="36.3" class="r lg"><tspan font-style="italic">H</tspan><tspan dy="0.6">=</tspan><tspan dy="-0.6">10m</tspan></text>
<text x="578" y="1163.5" font-size="36.3" class="r lg"><tspan font-style="italic">H</tspan><tspan dy="0.6">=</tspan><tspan dy="-0.6">20m</tspan></text>
<text x="578" y="1208.5" font-size="36.3" class="r lg"><tspan font-style="italic">H</tspan><tspan dy="0.6">=</tspan><tspan dy="-0.6">30m</tspan></text>
<g stroke="#727272" stroke-width="1.1" stroke-dasharray="3.7 3.6" fill="none"><line x1="1023.5" y1="761.51" x2="1778.1" y2="761.51"/><line x1="1023.5" y1="827.62" x2="1778.1" y2="827.62"/><line x1="1023.5" y1="893.74" x2="1778.1" y2="893.74"/><line x1="1023.5" y1="959.85" x2="1778.1" y2="959.85"/><line x1="1023.5" y1="1025.96" x2="1778.1" y2="1025.96"/><line x1="1023.5" y1="1092.08" x2="1778.1" y2="1092.08"/><line x1="1023.5" y1="1158.19" x2="1778.1" y2="1158.19"/><line x1="1174.42" y1="1224.3" x2="1174.42" y2="695.4"/><line x1="1325.34" y1="1224.3" x2="1325.34" y2="695.4"/><line x1="1476.26" y1="1224.3" x2="1476.26" y2="695.4"/><line x1="1627.18" y1="1224.3" x2="1627.18" y2="695.4"/></g>
<rect x="1023.5" y="695.4" width="754.6" height="528.9" fill="none" stroke="#000" stroke-width="2.2"/>
<path d="M1023.5 695.4H1033.8M1023.5 761.51H1033.8M1023.5 827.62H1033.8M1023.5 893.74H1033.8M1023.5 959.85H1033.8M1023.5 1025.96H1033.8M1023.5 1092.08H1033.8M1023.5 1158.19H1033.8M1023.5 1224.3H1033.8M1023.5 728.46H1028.5M1023.5 794.57H1028.5M1023.5 860.68H1028.5M1023.5 926.79H1028.5M1023.5 992.91H1028.5M1023.5 1059.02H1028.5M1023.5 1125.13H1028.5M1023.5 1191.24H1028.5M1023.5 1224.3V1214M1174.42 1224.3V1214M1325.34 1224.3V1214M1476.26 1224.3V1214M1627.18 1224.3V1214M1778.1 1224.3V1214M1098.96 1224.3V1219.3M1249.88 1224.3V1219.3M1400.8 1224.3V1219.3M1551.72 1224.3V1219.3M1702.64 1224.3V1219.3" stroke="#000" stroke-width="2.2" fill="none"/>
<g font-size="37.0" text-anchor="end"><text x="1012.3" y="706.3">0.1</text><text x="1012.3" y="772.41">0.0</text><text x="1012.3" y="838.52">-0.1</text><text x="1012.3" y="904.64">-0.2</text><text x="1012.3" y="970.75">-0.3</text><text x="1012.3" y="1036.86">-0.4</text><text x="1012.3" y="1102.98">-0.5</text><text x="1012.3" y="1169.09">-0.6</text><text x="1012.3" y="1235.2">-0.7</text></g>
<g font-size="37.0" text-anchor="middle"><text x="1023.5" y="1264.9">0.0</text><text x="1174.42" y="1264.9">0.2</text><text x="1325.34" y="1264.9">0.4</text><text x="1476.26" y="1264.9">0.6</text><text x="1627.18" y="1264.9">0.8</text><text x="1778.1" y="1264.9">1.0</text></g>
<rect x="1014.2" y="970.38" width="18.6" height="18.6" fill="#fff" stroke="#000" stroke-width="2.3" stroke-linejoin="round"/><rect x="1089.66" y="957.16" width="18.6" height="18.6" fill="#fff" stroke="#000" stroke-width="2.3" stroke-linejoin="round"/><rect x="1165.12" y="950.55" width="18.6" height="18.6" fill="#fff" stroke="#000" stroke-width="2.3" stroke-linejoin="round"/><rect x="1240.58" y="937.33" width="18.6" height="18.6" fill="#fff" stroke="#000" stroke-width="2.3" stroke-linejoin="round"/><rect x="1316.04" y="924.11" width="18.6" height="18.6" fill="#fff" stroke="#000" stroke-width="2.3" stroke-linejoin="round"/><rect x="1391.5" y="904.27" width="18.6" height="18.6" fill="#fff" stroke="#000" stroke-width="2.3" stroke-linejoin="round"/><rect x="1466.96" y="891.05" width="18.6" height="18.6" fill="#fff" stroke="#000" stroke-width="2.3" stroke-linejoin="round"/><rect x="1542.42" y="864.6" width="18.6" height="18.6" fill="#fff" stroke="#000" stroke-width="2.3" stroke-linejoin="round"/><rect x="1617.88" y="838.16" width="18.6" height="18.6" fill="#fff" stroke="#000" stroke-width="2.3" stroke-linejoin="round"/><rect x="1693.34" y="818.33" width="18.6" height="18.6" fill="#fff" stroke="#000" stroke-width="2.3" stroke-linejoin="round"/>
<circle cx="1023.5" cy="933.4" r="10.4" fill="#fff" stroke="#000" stroke-width="2.3" stroke-linejoin="round"/><circle cx="1098.96" cy="920.18" r="10.4" fill="#fff" stroke="#000" stroke-width="2.3" stroke-linejoin="round"/><circle cx="1174.42" cy="913.57" r="10.4" fill="#fff" stroke="#000" stroke-width="2.3" stroke-linejoin="round"/><circle cx="1249.88" cy="900.35" r="10.4" fill="#fff" stroke="#000" stroke-width="2.3" stroke-linejoin="round"/><circle cx="1325.34" cy="880.51" r="10.4" fill="#fff" stroke="#000" stroke-width="2.3" stroke-linejoin="round"/><circle cx="1400.8" cy="873.9" r="10.4" fill="#fff" stroke="#000" stroke-width="2.3" stroke-linejoin="round"/><circle cx="1476.26" cy="854.07" r="10.4" fill="#fff" stroke="#000" stroke-width="2.3" stroke-linejoin="round"/><circle cx="1551.72" cy="834.24" r="10.4" fill="#fff" stroke="#000" stroke-width="2.3" stroke-linejoin="round"/><circle cx="1627.18" cy="814.4" r="10.4" fill="#fff" stroke="#000" stroke-width="2.3" stroke-linejoin="round"/><circle cx="1702.64" cy="794.57" r="10.4" fill="#fff" stroke="#000" stroke-width="2.3" stroke-linejoin="round"/>
<path d="M1023.5 905.18L1036.5 927.68L1010.5 927.68Z" fill="#fff" stroke="#000" stroke-width="2.4" stroke-linejoin="round"/><path d="M1098.96 885.35L1111.96 907.85L1085.96 907.85Z" fill="#fff" stroke="#000" stroke-width="2.4" stroke-linejoin="round"/><path d="M1174.42 878.74L1187.42 901.24L1161.42 901.24Z" fill="#fff" stroke="#000" stroke-width="2.4" stroke-linejoin="round"/><path d="M1249.88 865.51L1262.88 888.01L1236.88 888.01Z" fill="#fff" stroke="#000" stroke-width="2.4" stroke-linejoin="round"/><path d="M1325.34 845.68L1338.34 868.18L1312.34 868.18Z" fill="#fff" stroke="#000" stroke-width="2.4" stroke-linejoin="round"/><path d="M1400.8 832.46L1413.8 854.96L1387.8 854.96Z" fill="#fff" stroke="#000" stroke-width="2.4" stroke-linejoin="round"/><path d="M1476.26 812.62L1489.26 835.12L1463.26 835.12Z" fill="#fff" stroke="#000" stroke-width="2.4" stroke-linejoin="round"/><path d="M1551.72 799.4L1564.72 821.9L1538.72 821.9Z" fill="#fff" stroke="#000" stroke-width="2.4" stroke-linejoin="round"/><path d="M1627.18 779.57L1640.18 802.07L1614.18 802.07Z" fill="#fff" stroke="#000" stroke-width="2.4" stroke-linejoin="round"/><path d="M1702.64 759.74L1715.64 782.24L1689.64 782.24Z" fill="#fff" stroke="#000" stroke-width="2.4" stroke-linejoin="round"/>
<rect x="1014.2" y="785.27" width="18.6" height="18.6" fill="#fff" stroke="#ff0000" stroke-width="2.3" stroke-linejoin="round"/><rect x="1089.66" y="785.27" width="18.6" height="18.6" fill="#fff" stroke="#ff0000" stroke-width="2.3" stroke-linejoin="round"/><rect x="1165.12" y="778.66" width="18.6" height="18.6" fill="#fff" stroke="#ff0000" stroke-width="2.3" stroke-linejoin="round"/><rect x="1240.58" y="778.66" width="18.6" height="18.6" fill="#fff" stroke="#ff0000" stroke-width="2.3" stroke-linejoin="round"/><rect x="1316.04" y="772.05" width="18.6" height="18.6" fill="#fff" stroke="#ff0000" stroke-width="2.3" stroke-linejoin="round"/><rect x="1391.5" y="765.44" width="18.6" height="18.6" fill="#fff" stroke="#ff0000" stroke-width="2.3" stroke-linejoin="round"/><rect x="1466.96" y="765.44" width="18.6" height="18.6" fill="#fff" stroke="#ff0000" stroke-width="2.3" stroke-linejoin="round"/><rect x="1542.42" y="758.82" width="18.6" height="18.6" fill="#fff" stroke="#ff0000" stroke-width="2.3" stroke-linejoin="round"/><rect x="1617.88" y="752.21" width="18.6" height="18.6" fill="#fff" stroke="#ff0000" stroke-width="2.3" stroke-linejoin="round"/><rect x="1693.34" y="745.6" width="18.6" height="18.6" fill="#fff" stroke="#ff0000" stroke-width="2.3" stroke-linejoin="round"/>
<circle cx="1023.5" cy="787.96" r="10.4" fill="#fff" stroke="#ff0000" stroke-width="2.3" stroke-linejoin="round"/><circle cx="1098.96" cy="781.35" r="10.4" fill="#fff" stroke="#ff0000" stroke-width="2.3" stroke-linejoin="round"/><circle cx="1174.42" cy="781.35" r="10.4" fill="#fff" stroke="#ff0000" stroke-width="2.3" stroke-linejoin="round"/><circle cx="1249.88" cy="774.74" r="10.4" fill="#fff" stroke="#ff0000" stroke-width="2.3" stroke-linejoin="round"/><circle cx="1325.34" cy="768.12" r="10.4" fill="#fff" stroke="#ff0000" stroke-width="2.3" stroke-linejoin="round"/><circle cx="1400.8" cy="768.12" r="10.4" fill="#fff" stroke="#ff0000" stroke-width="2.3" stroke-linejoin="round"/><circle cx="1476.26" cy="761.51" r="10.4" fill="#fff" stroke="#ff0000" stroke-width="2.3" stroke-linejoin="round"/><circle cx="1551.72" cy="754.9" r="10.4" fill="#fff" stroke="#ff0000" stroke-width="2.3" stroke-linejoin="round"/><circle cx="1627.18" cy="748.29" r="10.4" fill="#fff" stroke="#ff0000" stroke-width="2.3" stroke-linejoin="round"/><circle cx="1702.64" cy="748.29" r="10.4" fill="#fff" stroke="#ff0000" stroke-width="2.3" stroke-linejoin="round"/>
<path d="M1023.5 766.35L1036.5 788.85L1010.5 788.85Z" fill="#fff" stroke="#ff0000" stroke-width="2.4" stroke-linejoin="round"/><path d="M1098.96 759.74L1111.96 782.24L1085.96 782.24Z" fill="#fff" stroke="#ff0000" stroke-width="2.4" stroke-linejoin="round"/><path d="M1174.42 759.74L1187.42 782.24L1161.42 782.24Z" fill="#fff" stroke="#ff0000" stroke-width="2.4" stroke-linejoin="round"/><path d="M1249.88 753.12L1262.88 775.62L1236.88 775.62Z" fill="#fff" stroke="#ff0000" stroke-width="2.4" stroke-linejoin="round"/><path d="M1325.34 753.12L1338.34 775.62L1312.34 775.62Z" fill="#fff" stroke="#ff0000" stroke-width="2.4" stroke-linejoin="round"/><path d="M1400.8 746.51L1413.8 769.01L1387.8 769.01Z" fill="#fff" stroke="#ff0000" stroke-width="2.4" stroke-linejoin="round"/><path d="M1476.26 739.9L1489.26 762.4L1463.26 762.4Z" fill="#fff" stroke="#ff0000" stroke-width="2.4" stroke-linejoin="round"/><path d="M1551.72 739.9L1564.72 762.4L1538.72 762.4Z" fill="#fff" stroke="#ff0000" stroke-width="2.4" stroke-linejoin="round"/><path d="M1627.18 733.29L1640.18 755.79L1614.18 755.79Z" fill="#fff" stroke="#ff0000" stroke-width="2.4" stroke-linejoin="round"/><path d="M1702.64 733.29L1715.64 755.79L1689.64 755.79Z" fill="#fff" stroke="#ff0000" stroke-width="2.4" stroke-linejoin="round"/>
<text x="1179.7" y="1076.1" font-size="28.5" font-weight="bold" class="hd">HB(<tspan font-style="italic">Ac</tspan>)-1#(<tspan font-style="italic">Ac</tspan>)</text>
<text x="1477" y="1076.1" font-size="28.5" font-weight="bold" class="r hd">HB(<tspan font-style="italic">Ac</tspan>)-2#(<tspan font-style="italic">Ac</tspan>)</text>
<rect x="1186.7" y="1090" width="18.6" height="18.6" fill="#fff" stroke="#000" stroke-width="2.3" stroke-linejoin="round"/>
<circle cx="1195.9" cy="1144.1" r="10.4" fill="#fff" stroke="#000" stroke-width="2.3" stroke-linejoin="round"/>
<path d="M1196 1174L1209 1196.5L1183 1196.5Z" fill="#fff" stroke="#000" stroke-width="2.4" stroke-linejoin="round"/>
<rect x="1477.9" y="1085.4" width="18.6" height="18.6" fill="#fff" stroke="#ff0000" stroke-width="2.3" stroke-linejoin="round"/>
<circle cx="1487.1" cy="1139.7" r="10.4" fill="#fff" stroke="#ff0000" stroke-width="2.3" stroke-linejoin="round"/>
<path d="M1487.2 1169.7L1500.2 1192.2L1474.2 1192.2Z" fill="#fff" stroke="#ff0000" stroke-width="2.4" stroke-linejoin="round"/>
<text x="1245.6" y="1111.8" font-size="36.3" class="lg"><tspan font-style="italic">H</tspan><tspan dy="0.6">=</tspan><tspan dy="-0.6">10m</tspan></text>
<text x="1245.6" y="1156.3" font-size="36.3" class="lg"><tspan font-style="italic">H</tspan><tspan dy="0.6">=</tspan><tspan dy="-0.6">20m</tspan></text>
<text x="1245.6" y="1201.6" font-size="36.3" class="lg"><tspan font-style="italic">H</tspan><tspan dy="0.6">=</tspan><tspan dy="-0.6">30m</tspan></text>
<text x="1537.2" y="1107.7" font-size="36.3" class="r lg"><tspan font-style="italic">H</tspan><tspan dy="0.6">=</tspan><tspan dy="-0.6">10m</tspan></text>
<text x="1537.2" y="1152.1" font-size="36.3" class="r lg"><tspan font-style="italic">H</tspan><tspan dy="0.6">=</tspan><tspan dy="-0.6">20m</tspan></text>
<text x="1537.2" y="1198" font-size="36.3" class="r lg"><tspan font-style="italic">H</tspan><tspan dy="0.6">=</tspan><tspan dy="-0.6">30m</tspan></text>
<text x="124.8" y="47.5" font-size="28.6" class="pt">(a) Different <tspan font-style="italic" dx="1.3">σ</tspan><tspan font-style="italic" font-size="20" dx="1.3" dy="8.5">ci</tspan><tspan dx="-1.8" dy="-8.5"> , </tspan><tspan font-style="italic" dx="-1.5">β</tspan>= 60°</text>
<text x="1035.4" y="47" font-size="28.6" class="pt">(b) Different <tspan font-style="italic">GSI</tspan>, <tspan font-style="italic">β</tspan>= 60°</text>
<text x="125" y="728.8" font-size="28.6" class="pt">(c) Different <tspan font-style="italic">m</tspan><tspan font-style="italic" font-size="20" dy="7.8">i</tspan><tspan dy="-7.8"> , </tspan><tspan font-style="italic" dx="-2.6">β</tspan>= 60°</text>
<text x="1040" y="732.7" font-size="28.6" class="pt">(d) Different <tspan font-style="italic">D</tspan>, <tspan font-style="italic">β</tspan>= 60°</text>
<text x="407" y="627.8" font-size="39.0"><tspan font-style="italic">σ</tspan><tspan font-style="italic" font-size="26.5" dy="10">ci</tspan></text>
<text x="451.3" y="627.8" font-size="39.0">(MPa)</text>
<text x="1374" y="622.8" font-size="39.0" font-style="italic">GSI</text>
<text x="458" y="1307.7" font-size="39.0"><tspan font-style="italic">m</tspan><tspan font-style="italic" font-size="28" dy="10">i</tspan></text>
<text x="1378" y="1311.5" font-size="39.0" font-style="italic">D</text>
<text transform="translate(26.6 0) rotate(-90) translate(-281.15 0) scale(-1.176 0.886)" font-size="39">Δ</text>
<text transform="translate(26.6 0) rotate(-90) translate(-280.84 0) scale(0.8 1)" font-size="40" font-style="italic">A</text>
<text transform="translate(26.6 0) rotate(-90)" x="-259.15" font-size="37" font-style="italic">c</text>
<text transform="translate(940.8 0) rotate(-90) translate(-281.15 0) scale(-1.176 0.886)" font-size="39">Δ</text>
<text transform="translate(940.8 0) rotate(-90) translate(-280.84 0) scale(0.8 1)" font-size="40" font-style="italic">A</text>
<text transform="translate(940.8 0) rotate(-90)" x="-259.15" font-size="37" font-style="italic">c</text>
<text transform="translate(26.7 0) rotate(-90) translate(-961.95 0) scale(-1.176 0.886)" font-size="39">Δ</text>
<text transform="translate(26.7 0) rotate(-90) translate(-961.64 0) scale(0.8 1)" font-size="40" font-style="italic">A</text>
<text transform="translate(26.7 0) rotate(-90)" x="-939.95" font-size="37" font-style="italic">c</text>
<text transform="translate(940.8 0) rotate(-90) translate(-961.95 0) scale(-1.176 0.886)" font-size="39">Δ</text>
<text transform="translate(940.8 0) rotate(-90) translate(-961.64 0) scale(0.8 1)" font-size="40" font-style="italic">A</text>
<text transform="translate(940.8 0) rotate(-90)" x="-939.95" font-size="37" font-style="italic">c</text>
<rect x="0" y="0" width="1800" height="1.9" fill="#fff"/>
<rect x="0" y="660" width="1800" height="22.9" fill="#fff"/>
</svg></body></html>
